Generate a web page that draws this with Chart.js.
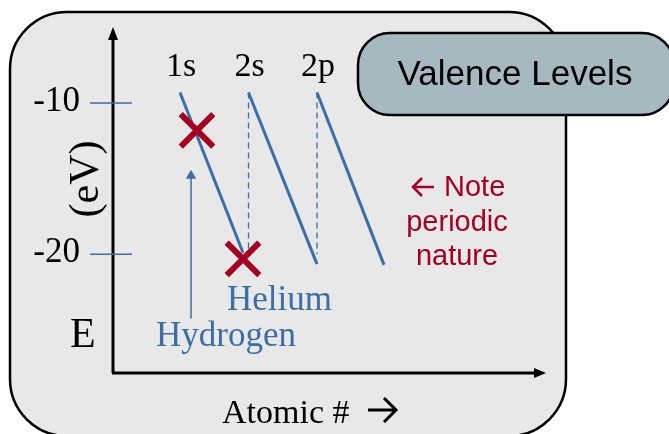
<!DOCTYPE html>
<html>
<head>
<meta charset="utf-8">
<script src="https://cdn.jsdelivr.net/npm/chart.js@4"></script>
<style>
  html, body { margin: 0; padding: 0; background: #ffffff; }
  canvas { display: block; }
</style>
</head>
<body>
<canvas id="levelChart" width="669" height="434"></canvas>
<script>
// Orbital energy lines (x = position along atomic #, y = energy in eV)
const levelNames = ['1s', '2s', '2p'];
const levelStartX = [6.7, 13.55, 20.4];
const levelEndX = [13.0, 20.4, 27.1];
const levelStartE = [-9.3, -9.3, -9.3];
const levelEndE = [-19.9, -20.65, -20.7];

// Dashed guides dropping from the start of 2s and 2p
const guideX = [13.55, 20.4];
const guideTopE = -9.3;
const guideBottomE = -20.0;

// Red crosses: Hydrogen and Helium
const markerX = [8.4, 13.0];
const markerE = [-11.8, -20.3];

// Hydrogen pointer arrow
const pointerX = 7.8;
const pointerFromE = -24.25;
const pointerToE = -14.8;

// Y tick labels
const tickValues = [-10, -20];
const tickLabels = ['-10', '-20'];

const blue = '#3a6ea5';
const red = '#a50021';
const serif = "'Liberation Serif', 'DejaVu Serif', serif";
const sans = "'Liberation Sans', Arial, sans-serif";

function roundRect(ctx, x, y, w, h, r) {
    ctx.beginPath();
    ctx.moveTo(x + r, y);
    ctx.lineTo(x + w - r, y);
    ctx.arcTo(x + w, y, x + w, y + r, r);
    ctx.lineTo(x + w, y + h - r);
    ctx.arcTo(x + w, y + h, x + w - r, y + h, r);
    ctx.lineTo(x + r, y + h);
    ctx.arcTo(x, y + h, x, y + h - r, r);
    ctx.lineTo(x, y + r);
    ctx.arcTo(x, y, x + r, y, r);
    ctx.closePath();
}

// open chevron arrow, dir = 1 right, -1 left
function openArrow(ctx, x0, x1, y, head, dir) {
    const tip = dir > 0 ? x1 : x0;
    const tail = dir > 0 ? x0 : x1;
    ctx.beginPath();
    ctx.moveTo(tail, y);
    ctx.lineTo(tip, y);
    ctx.moveTo(tip - dir * head, y - head);
    ctx.lineTo(tip, y);
    ctx.lineTo(tip - dir * head, y + head);
    ctx.stroke();
}

const datasets = [];

// crosses on top
datasets.push({
    data: markerX.map((x, i) => ({ x: x, y: markerE[i] })),
    showLine: false,
    pointStyle: 'crossRot',
    pointRadius: 23,
    borderColor: red,
    borderWidth: 6,
    clip: false
});

levelNames.forEach((name, i) => {
    datasets.push({
        label: name,
        data: [{ x: levelStartX[i], y: levelStartE[i] }, { x: levelEndX[i], y: levelEndE[i] }],
        showLine: true,
        borderColor: blue,
        borderWidth: 3,
        pointRadius: 0
    });
});

guideX.forEach(x => {
    datasets.push({
        data: [{ x: x, y: guideTopE }, { x: x, y: guideBottomE }],
        showLine: true,
        borderColor: blue,
        borderWidth: 1.3,
        borderDash: [6, 4],
        pointRadius: 0
    });
});

// hydrogen pointer line + head
datasets.push({
    data: [{ x: pointerX, y: pointerFromE }, { x: pointerX, y: pointerToE }],
    showLine: true,
    borderColor: blue,
    borderWidth: 1.5,
    pointRadius: [0, 6],
    pointStyle: 'triangle',
    pointBackgroundColor: blue,
    pointBorderColor: blue,
    pointBorderWidth: 0
});

const slidePlugin = {
    id: 'slide',
    beforeDraw(chart) {
        const ctx = chart.ctx;
        const a = chart.chartArea;
        ctx.save();
        // panel
        roundRect(ctx, 10, 12, 556, 424, 57);
        ctx.fillStyle = '#e8e8e8';
        ctx.fill();
        ctx.lineWidth = 2.5;
        ctx.strokeStyle = '#000';
        ctx.stroke();

        // axes
        ctx.lineWidth = 3;
        ctx.beginPath();
        ctx.moveTo(a.left, a.bottom);
        ctx.lineTo(a.left, a.top + 10);
        ctx.moveTo(a.left - 1, a.bottom);
        ctx.lineTo(a.right - 10, a.bottom);
        ctx.stroke();
        ctx.fillStyle = '#000';
        ctx.beginPath();
        ctx.moveTo(a.left, a.top - 2);
        ctx.lineTo(a.left - 5, a.top + 11);
        ctx.lineTo(a.left + 5, a.top + 11);
        ctx.closePath();
        ctx.fill();
        ctx.beginPath();
        ctx.moveTo(a.right + 1, a.bottom);
        ctx.lineTo(a.right - 11, a.bottom - 5);
        ctx.lineTo(a.right - 11, a.bottom + 5);
        ctx.closePath();
        ctx.fill();

        // y ticks
        const ys = chart.scales.y;
        ctx.strokeStyle = blue;
        ctx.lineWidth = 1.5;
        ctx.font = '35px ' + serif;
        ctx.textAlign = 'right';
        ctx.textBaseline = 'middle';
        tickValues.forEach((v, i) => {
            const py = ys.getPixelForValue(v);
            ctx.beginPath();
            ctx.moveTo(a.left - 23, py);
            ctx.lineTo(a.left + 19, py);
            ctx.stroke();
            ctx.fillStyle = '#000';
            ctx.fillText(tickLabels[i], 80, py - 1);
        });

        // axis titles
        ctx.fillStyle = '#000';
        ctx.textAlign = 'left';
        ctx.textBaseline = 'alphabetic';
        ctx.font = '42px ' + serif;
        ctx.fillText('E', 70, 347);
        ctx.save();
        ctx.translate(98, 179);
        ctx.rotate(-Math.PI / 2);
        ctx.textAlign = 'center';
        ctx.fillText('(eV)', 0, 0);
        ctx.restore();
        ctx.font = '34px ' + serif;
        ctx.textAlign = 'left';
        ctx.fillText('Atomic #', 222, 423);
        ctx.strokeStyle = '#000';
        ctx.lineWidth = 3;
        openArrow(ctx, 368, 396, 410, 12, 1);
        ctx.restore();
    },
    afterDraw(chart) {
        const ctx = chart.ctx;
        const xs = chart.scales.x;
        ctx.save();
        // orbital labels
        ctx.fillStyle = '#000';
        ctx.font = '34px ' + serif;
        ctx.textAlign = 'center';
        ctx.textBaseline = 'alphabetic';
        levelNames.forEach((name, i) => {
            ctx.fillText(name, xs.getPixelForValue(levelStartX[i]) + 1, 76);
        });

        // element labels
        ctx.fillStyle = blue;
        ctx.font = '35px ' + serif;
        ctx.textAlign = 'left';
        ctx.fillText('Helium', 227, 310);
        ctx.fillText('Hydrogen', 156, 346);

        // note
        ctx.fillStyle = red;
        ctx.strokeStyle = red;
        ctx.lineWidth = 2.5;
        openArrow(ctx, 413, 434, 187, 9, -1);
        ctx.font = '29px ' + sans;
        ctx.textAlign = 'left';
        ctx.textBaseline = 'middle';
        ctx.fillText('Note', 444, 188);
        ctx.textAlign = 'center';
        ctx.fillText('periodic', 457, 223);
        ctx.fillText('nature', 457, 257);

        // Valence Levels box
        roundRect(ctx, 358, 33, 316, 82, 32);
        ctx.fillStyle = '#a6b9c0';
        ctx.fill();
        ctx.lineWidth = 2.5;
        ctx.strokeStyle = '#000';
        ctx.stroke();
        ctx.fillStyle = '#000';
        ctx.font = '35px ' + sans;
        ctx.fillText('Valence Levels', 515, 75);
        ctx.restore();
    }
};

new Chart(document.getElementById('levelChart'), {
    type: 'scatter',
    data: { datasets: datasets },
    options: {
        responsive: false,
        devicePixelRatio: 1,
        animation: false,
        layout: { padding: { left: 113, top: 25, right: 124, bottom: 61 } },
        plugins: {
            legend: { display: false },
            tooltip: { enabled: false }
        },
        scales: {
            x: { type: 'linear', display: false, min: 0, max: 43.2 },
            y: { type: 'linear', display: false, min: -27.85, max: -5.1 }
        }
    },
    plugins: [slidePlugin]
});
</script>
</body>
</html>
